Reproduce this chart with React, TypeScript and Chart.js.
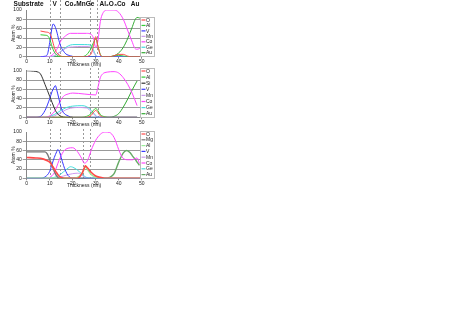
import React, { useEffect, useRef } from "react";
import { Chart, registerables } from "chart.js";
Chart.register(...registerables);

// ---------- shared ----------
const Y_TICK_STEP = 20;
const X_TICK_STEP = 10;
const HEADER_LABELS = ["Substrate", "V", "Co\u2082MnGe", "Al\u2082O\u2083Co", "Au"];
const HEADER_POS = [0.8, 12.2, 23.0, 37.3, 47.1];

const COLORS: Record<string, string> = {
  O: "#ff4848",
  Al: "#33cc33",
  Si: "#333333",
  Mg: "#777777",
  V: "#3838ff",
  Mn: "#cc99ee",
  Co: "#ff44ff",
  Ge: "#44dddd",
  Au: "#33aa33",
};

// ---------- panel 1 ----------
const p1Interfaces = [10, 14.6, 27.5, 30.5];
const p1O_x = [6, 8, 10, 11, 12, 13, 14, 15, 16, 26, 27, 28, 29, 30, 31, 32, 33, 36, 38, 40, 42, 44, 46, 50];
const p1O_y = [55, 53, 50, 38, 20, 9, 4, 1, 0, 0, 2, 6, 22, 43, 22, 4, 0, 0, 2, 5, 5, 1, 0, 0];
const p1Al_x = [6, 8, 9, 10, 11, 12, 13, 14, 16, 24, 26, 27, 28, 29, 30, 31, 32, 33, 36, 40, 44, 50];
const p1Al_y = [47, 46, 45, 38, 22, 10, 4, 1, 0, 0, 4, 10, 18, 30, 38, 22, 5, 0, 0, 3, 0, 0];
const p1V_x = [6, 8, 9, 10, 11, 11.5, 12, 13, 14, 15, 16, 17, 19, 21, 50];
const p1V_y = [0, 1, 5, 30, 62, 70, 68, 55, 35, 20, 12, 6, 2, 0, 0];
const p1Mn_x = [6, 10, 12, 14, 16, 18, 20, 24, 27, 28, 29, 30, 31, 50];
const p1Mn_y = [0, 0, 2, 8, 15, 20, 21, 22, 22, 20, 10, 3, 0, 0];
const p1Co_x = [6, 9, 11, 13, 15, 17, 19, 22, 26, 28, 29, 30, 31, 32, 33, 35, 38, 40, 42, 44, 46, 47, 48, 50];
const p1Co_y = [0, 0, 3, 15, 35, 45, 50, 50, 50, 48, 40, 20, 35, 75, 92, 100, 100, 95, 80, 55, 30, 18, 16, 20];
const p1Ge_x = [6, 11, 13, 15, 17, 19, 21, 25, 28, 29, 30, 31, 50];
const p1Ge_y = [0, 0, 5, 12, 20, 25, 26, 26, 25, 15, 3, 0, 0];
const p1Au_x = [6, 36, 38, 40, 42, 44, 46, 47, 48, 49, 50];
const p1Au_y = [0, 0, 2, 8, 20, 40, 65, 78, 84, 83, 80];

// ---------- panel 2 ----------
const p2Interfaces = [10, 14.6, 27.5, 31];
const p2O_x = [0, 26, 28, 29, 30, 31, 32, 34, 48];
const p2O_y = [0, 0, 4, 10, 15, 10, 3, 0, 0];
const p2Al_x = [0, 24, 26, 28, 29, 30, 31, 32, 34, 36, 48];
const p2Al_y = [0, 0, 2, 8, 15, 19, 14, 6, 1, 0, 0];
const p2Si_x = [0, 3, 5, 6, 8, 10, 12, 13, 14, 15, 17, 20];
const p2Si_y = [100, 99, 97, 93, 70, 45, 20, 10, 5, 2, 0, 0];
const p2V_x = [0, 4, 6, 8, 10, 11, 12, 12.5, 13, 14, 15, 16, 18, 20, 48];
const p2V_y = [0, 0, 2, 15, 40, 55, 65, 68, 60, 40, 20, 10, 3, 0, 0];
const p2Mn_x = [0, 10, 14, 18, 22, 26, 28, 30, 31, 48];
const p2Mn_y = [0, 0, 8, 18, 21, 20, 12, 3, 0, 0];
const p2Co_x = [0, 8, 10, 12, 14, 16, 18, 20, 25, 30, 31, 32, 33, 35, 38, 40, 42, 44, 46, 48];
const p2Co_y = [0, 0, 3, 12, 30, 45, 50, 52, 50, 48, 65, 85, 93, 97, 98, 95, 85, 70, 50, 25];
const p2Ge_x = [0, 8, 10, 12, 14, 16, 18, 20, 24, 26, 28, 30, 31, 48];
const p2Ge_y = [0, 0, 2, 6, 12, 18, 22, 24, 25, 23, 15, 4, 0, 0];
const p2Au_x = [0, 36, 38, 40, 42, 44, 46, 48];
const p2Au_y = [0, 0, 2, 8, 22, 40, 60, 78];

// ---------- panel 3 ----------
const p3Interfaces = [10, 14.6, 24.5, 27.7];
const p3O_x = [0, 4, 7, 9, 10, 11, 12, 13, 14, 15, 16, 22, 24, 25, 25.5, 26, 27, 28, 30, 32, 34, 50];
const p3O_y = [45, 44, 42, 38, 35, 28, 20, 12, 5, 2, 0, 0, 10, 22, 27, 25, 19, 13, 5, 2, 0, 0];
const p3Mg_x = [0, 8, 9, 10, 11, 12, 13, 14, 16];
const p3Mg_y = [57, 57, 52, 40, 28, 15, 5, 0, 0];
const p3Al_x = [0, 20, 22, 24, 25, 25.5, 26, 27, 28, 30, 32, 50];
const p3Al_y = [0, 0, 2, 10, 20, 25, 22, 15, 8, 2, 0, 0];
const p3V_x = [0, 6, 8, 10, 11, 12, 13, 13.5, 14, 15, 16, 17, 18, 20, 50];
const p3V_y = [0, 0, 3, 15, 30, 45, 57, 62, 60, 45, 28, 15, 6, 0, 0];
const p3Mn_x = [0, 12, 14, 16, 18, 20, 22, 23, 24, 25, 26, 50];
const p3Mn_y = [0, 0, 2, 5, 8, 10, 11, 10, 7, 3, 0, 0];
const p3Co_x = [0, 8, 10, 12, 14, 16, 18, 20, 22, 24, 25, 26, 27, 28, 30, 32, 34, 36, 38, 40, 41, 42, 44, 46, 48, 49];
const p3Co_y = [0, 0, 2, 12, 38, 58, 65, 66, 58, 42, 33, 35, 45, 60, 82, 95, 100, 99, 88, 62, 50, 43, 40, 40, 44, 32];
const p3Ge_x = [0, 10, 12, 14, 16, 18, 19, 20, 22, 24, 25, 26, 28, 50];
const p3Ge_y = [0, 0, 2, 6, 14, 22, 25, 24, 18, 9, 5, 2, 0, 0];
const p3Au_x = [0, 34, 36, 38, 40, 42, 43.5, 45, 46, 47, 48, 49];
const p3Au_y = [0, 0, 2, 10, 35, 55, 60, 55, 48, 42, 35, 28];

type Series = { label: string; xs: number[]; ys: number[]; color: string; width: number };

const panel1: Series[] = [
  { label: "O", xs: p1O_x, ys: p1O_y, color: COLORS.O, width: 1 },
  { label: "Al", xs: p1Al_x, ys: p1Al_y, color: COLORS.Al, width: 1 },
  { label: "V", xs: p1V_x, ys: p1V_y, color: COLORS.V, width: 1 },
  { label: "Mn", xs: p1Mn_x, ys: p1Mn_y, color: COLORS.Mn, width: 1 },
  { label: "Co", xs: p1Co_x, ys: p1Co_y, color: COLORS.Co, width: 1 },
  { label: "Ge", xs: p1Ge_x, ys: p1Ge_y, color: COLORS.Ge, width: 1 },
  { label: "Au", xs: p1Au_x, ys: p1Au_y, color: COLORS.Au, width: 1 },
];
const panel2: Series[] = [
  { label: "O", xs: p2O_x, ys: p2O_y, color: COLORS.O, width: 1 },
  { label: "Al", xs: p2Al_x, ys: p2Al_y, color: COLORS.Al, width: 1 },
  { label: "Si", xs: p2Si_x, ys: p2Si_y, color: COLORS.Si, width: 1 },
  { label: "V", xs: p2V_x, ys: p2V_y, color: COLORS.V, width: 1 },
  { label: "Mn", xs: p2Mn_x, ys: p2Mn_y, color: COLORS.Mn, width: 1 },
  { label: "Co", xs: p2Co_x, ys: p2Co_y, color: COLORS.Co, width: 1 },
  { label: "Ge", xs: p2Ge_x, ys: p2Ge_y, color: COLORS.Ge, width: 1 },
  { label: "Au", xs: p2Au_x, ys: p2Au_y, color: COLORS.Au, width: 1 },
];
const panel3: Series[] = [
  { label: "O", xs: p3O_x, ys: p3O_y, color: COLORS.O, width: 1.6 },
  { label: "Mg", xs: p3Mg_x, ys: p3Mg_y, color: COLORS.Mg, width: 1.4 },
  { label: "Al", xs: p3Al_x, ys: p3Al_y, color: "#99ee99", width: 1.4 },
  { label: "V", xs: p3V_x, ys: p3V_y, color: COLORS.V, width: 1 },
  { label: "Mn", xs: p3Mn_x, ys: p3Mn_y, color: COLORS.Mn, width: 1 },
  { label: "Co", xs: p3Co_x, ys: p3Co_y, color: COLORS.Co, width: 1 },
  { label: "Ge", xs: p3Ge_x, ys: p3Ge_y, color: COLORS.Ge, width: 1 },
  { label: "Au", xs: p3Au_x, ys: p3Au_y, color: "#66aa66", width: 1.4 },
];

type Geo = {
  top: number; height: number; plotTop: number; plotBottom: number;
  legendTop: number; legendBottom: number; legendFirst: number; legendStep: number;
  dashTop: number; header: boolean; interfaces: number[];
};

const FONT = "'Liberation Sans', Arial, sans-serif";
const CANVAS_W = 160;
const PLOT_LEFT = 26.7;
const PLOT_RIGHT = 141.7;

const overlay = {
  id: "overlay",
  beforeDatasetsDraw(chart: any, _a: any, opts: any) {
    const { ctx, chartArea, scales } = chart;
    const g: Geo = opts.geo;
    ctx.save();
    ctx.strokeStyle = "#9a9a9a";
    ctx.lineWidth = 1;
    ctx.setLineDash([2, 2]);
    for (const v of g.interfaces) {
      const px = Math.round(scales.x.getPixelForValue(v)) + 0.5;
      ctx.beginPath();
      ctx.moveTo(px, g.dashTop);
      ctx.lineTo(px, chartArea.bottom);
      ctx.stroke();
    }
    ctx.restore();
  },
  afterDraw(chart: any, _a: any, opts: any) {
    const { ctx, scales } = chart;
    const g: Geo = opts.geo;
    const series: Series[] = opts.series;
    ctx.save();
    if (g.header) {
      ctx.fillStyle = "#111";
      ctx.font = `bold 6.5px ${FONT}`;
      ctx.textAlign = "center";
      ctx.textBaseline = "middle";
      HEADER_LABELS.forEach((t, i) => {
        ctx.fillText(t, scales.x.getPixelForValue(HEADER_POS[i]), 4.5);
      });
    }
    // legend box
    const bx = 140.5, bw = 14;
    ctx.fillStyle = "#fff";
    ctx.fillRect(bx, g.legendTop - g.top, bw, g.legendBottom - g.legendTop);
    ctx.strokeStyle = "#bbb";
    ctx.lineWidth = 1;
    ctx.strokeRect(bx, g.legendTop - g.top + 0.5, bw, g.legendBottom - g.legendTop);
    ctx.font = `5px ${FONT}`;
    ctx.textAlign = "left";
    ctx.textBaseline = "middle";
    series.forEach((s, i) => {
      const y = g.legendFirst + i * g.legendStep - g.top;
      ctx.strokeStyle = s.color;
      ctx.lineWidth = 1.2;
      ctx.beginPath();
      ctx.moveTo(bx + 1, y);
      ctx.lineTo(bx + 5, y);
      ctx.stroke();
      ctx.fillStyle = "#222";
      ctx.fillText(s.label, bx + 5.5, y + 0.3);
    });
    ctx.restore();
  },
};

function Panel({ geo, series }: { geo: Geo; series: Series[] }) {
  const ref = useRef<HTMLCanvasElement>(null);
  useEffect(() => {
    if (!ref.current) return;
    const xHeight = geo.height - (geo.plotBottom - geo.top);
    const chart = new Chart(ref.current, {
      type: "line",
      data: {
        datasets: series.map((s) => ({
          label: s.label,
          data: s.xs.map((x, i) => ({ x, y: s.ys[i] })),
          borderColor: s.color,
          backgroundColor: s.color,
          borderWidth: s.width,
          pointRadius: 0,
          cubicInterpolationMode: "monotone" as const,
          fill: false,
        })),
      },
      options: {
        responsive: false,
        animation: false,
        devicePixelRatio: 1,
        layout: {
          padding: { left: 0, right: CANVAS_W - PLOT_RIGHT, top: geo.plotTop - geo.top, bottom: 0 },
        },
        plugins: {
          legend: { display: false },
          tooltip: { enabled: false },
          overlay: { geo, series },
        } as any,
        scales: {
          x: {
            type: "linear",
            min: 0,
            max: 50,
            ticks: { stepSize: X_TICK_STEP, font: { size: 5, family: FONT }, color: "#222", padding: 0, maxRotation: 0 },
            grid: { display: true, drawOnChartArea: false, tickLength: 2, color: "#888" },
            border: { color: "#888" },
            title: { display: true, text: "Thickness (nm)", font: { size: 5, family: FONT }, color: "#222", padding: { top: 0, bottom: 1 } },
            afterFit: (sc: any) => { sc.height = xHeight; },
          },
          y: {
            min: 0,
            max: 100,
            ticks: { stepSize: Y_TICK_STEP, font: { size: 5, family: FONT }, color: "#222", padding: 1 },
            grid: {
              tickLength: 4,
              color: (c: any) => (c.tick && c.tick.value === 100 ? "rgba(0,0,0,0)" : "#9a9a9a"),
            },
            border: { color: "#888" },
            title: { display: true, text: "Atom %", font: { size: 5, family: FONT }, color: "#222", padding: { top: 11, bottom: 0 } },
            afterFit: (sc: any) => { sc.width = PLOT_LEFT; },
          },
        },
      },
      plugins: [overlay as any],
    });
    return () => chart.destroy();
  }, []);
  return (
    <canvas
      ref={ref}
      width={CANVAS_W}
      height={geo.height}
      style={{ position: "absolute", left: 0, top: geo.top, width: CANVAS_W, height: geo.height }}
    />
  );
}

const geo1: Geo = { top: 0, height: 69, plotTop: 10, plotBottom: 56.7, legendTop: 17, legendBottom: 56, legendFirst: 20, legendStep: 5.45, dashTop: 0, header: true, interfaces: p1Interfaces };
const geo2: Geo = { top: 66, height: 63, plotTop: 70.7, plotBottom: 117.3, legendTop: 68, legendBottom: 117, legendFirst: 71, legendStep: 6.1, dashTop: 2, header: false, interfaces: p2Interfaces };
const geo3: Geo = { top: 128, height: 62, plotTop: 131, plotBottom: 178.3, legendTop: 131, legendBottom: 178, legendFirst: 134, legendStep: 5.8, dashTop: 1, header: false, interfaces: p3Interfaces };

export default function App() {
  return (
    <div style={{ position: "absolute", left: 0, top: 0, width: 463, height: 328, background: "#fff", overflow: "hidden" }}>
      <Panel geo={geo1} series={panel1} />
      <Panel geo={geo2} series={panel2} />
      <Panel geo={geo3} series={panel3} />
    </div>
  );
}
